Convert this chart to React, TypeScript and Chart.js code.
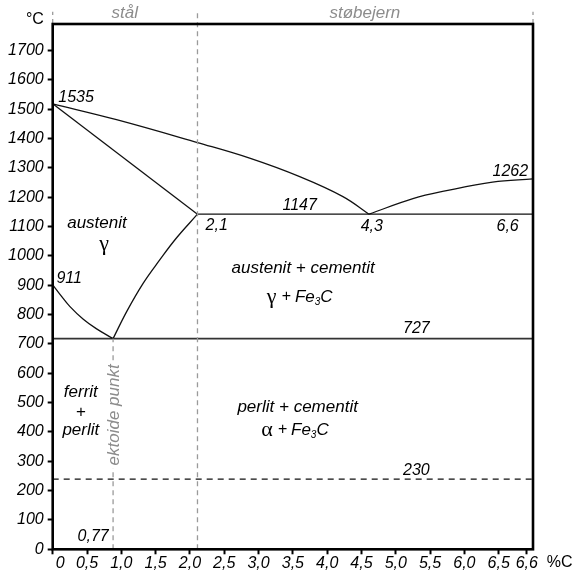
import React, { useEffect, useRef } from 'react';
import { Chart, registerables } from 'chart.js';

Chart.register(...registerables);

// ---- axis ticks (x positions follow the schematic drawing) ----
const xTickValues = [0, 0.5, 1, 1.5, 2, 2.5, 3, 3.5, 4, 4.5, 5, 5.5, 6, 6.5, 6.91];
const xTickLabels = ['0', '0,5', '1,0', '1,5', '2,0', '2,5', '3,0', '3,5', '4,0', '4,5', '5,0', '5,5', '6,0', '6,5', '6,6'];
const yTickValues = [0, 100, 200, 300, 400, 500, 600, 700, 800, 900, 1000, 1100, 1200, 1300, 1400, 1500, 1600, 1700];

// ---- phase boundary lines ----
const liquidusLeftX = [0, 0.93, 2.11, 2.87, 3.6, 4.23, 4.61];
const liquidusLeftY = [1518, 1464, 1386, 1333, 1270, 1202, 1142];
const liquidusRightX = [4.61, 5.25, 5.74, 6.41, 7.0];
const liquidusRightY = [1142, 1195, 1222, 1251, 1262];
const solidusX = [0, 2.11];
const solidusY = [1518, 1142];
const a3X = [0, 0.106, 0.252, 0.446, 0.64, 0.88];
const a3Y = [901, 869, 827, 784, 751, 718];
const acmX = [0.88, 1.078, 1.32, 1.56, 1.8, 2.11];
const acmY = [718, 810, 907, 986, 1060, 1142];
const eutecticX = [2.11, 7.0];
const eutecticY = [1142, 1142];
const eutectoidX = [0, 7.0];
const eutectoidY = [718, 718];
const line230X = [0, 7.0];
const line230Y = [239, 239];
const steelIronX = [2.11, 2.11];
const steelIronY = [0, 1832];
const eutectoidPointX = [0.88, 0.88];
const eutectoidPointY = [0, 718];
const leftMarkX = [0, 0];
const rightMarkX = [7.0, 7.0];
const edgeMarkY = [1790, 1832];

// ---- text annotations (data coordinates) ----
type Lbl = { text: string; x: number; y: number; kind: 'num' | 'region' | 'gray' | 'unit'; rotate?: boolean; align?: CanvasTextAlign };
const labels: Lbl[] = [
  { text: '1535', x: 0.34, y: 1539, kind: 'num' },
  { text: '1262', x: 6.67, y: 1287, kind: 'num' },
  { text: '1147', x: 3.6, y: 1170, kind: 'num' },
  { text: '2,1', x: 2.39, y: 1102, kind: 'num' },
  { text: '4,3', x: 4.65, y: 1099, kind: 'num' },
  { text: '6,6', x: 6.63, y: 1099, kind: 'num' },
  { text: '911', x: 0.24, y: 922, kind: 'num' },
  { text: '727', x: 5.3, y: 751, kind: 'num' },
  { text: '230', x: 5.3, y: 270, kind: 'num' },
  { text: '0,77', x: 0.59, y: 45, kind: 'num' },
  { text: 'austenit', x: 0.645, y: 1112, kind: 'region' },
  { text: 'austenit + cementit', x: 3.65, y: 959, kind: 'region' },
  { text: 'perlit + cementit', x: 3.57, y: 485, kind: 'region' },
  { text: 'ferrit', x: 0.41, y: 536, kind: 'region' },
  { text: '+', x: 0.41, y: 468, kind: 'region' },
  { text: 'perlit', x: 0.41, y: 407, kind: 'region' },
  { text: 'stål', x: 1.05, y: 1825, kind: 'gray' },
  { text: 'støbejern', x: 4.55, y: 1825, kind: 'gray' },
  { text: 'ektoide punkt', x: 0.88, y: 458, kind: 'gray', rotate: true },
  { text: '°C', x: -0.26, y: 1805, kind: 'unit' },
  { text: '%C', x: 7.2, y: -47, kind: 'unit', align: 'left' },
];
const greekLabels = [
  { greek: 'γ', x: 0.75, y: 1041, formula: false },
  { greek: 'γ', x: 3.6, y: 860, formula: true },
  { greek: 'α', x: 3.53, y: 407, formula: true },
];

const FAMILY = '"Liberation Sans", Arial, Helvetica, sans-serif';
const GREEK_FONT = '22px "Liberation Serif", "DejaVu Serif", serif';
const TICK_FONT = `italic 16px ${FAMILY}`;

const pts = (xs: number[], ys: number[]) => xs.map((x, i) => ({ x, y: ys[i] }));

const overlay = {
  id: 'overlay',
  afterDatasetsDraw(chart: any) {
    const { ctx, chartArea: a } = chart;
    const xs = chart.scales.x;
    const ys = chart.scales.y;
    ctx.save();
    // frame
    ctx.lineWidth = 2.6;
    ctx.strokeStyle = '#000';
    ctx.strokeRect(a.left, a.top, a.right - a.left, a.bottom - a.top);

    // tick labels (italic), placed from the scales
    ctx.font = TICK_FONT;
    ctx.fillStyle = '#000';
    ctx.textBaseline = 'middle';
    ctx.textAlign = 'right';
    yTickValues.forEach((v) => {
      ctx.fillText(String(v), a.left - 9, ys.getPixelForValue(v));
    });
    ctx.textAlign = 'center';
    xTickValues.forEach((v, i) => {
      let px = xs.getPixelForValue(v);
      const w = ctx.measureText(xTickLabels[i]).width;
      if (px - w / 2 < a.left) px = a.left + 3 + w / 2;
      ctx.fillText(xTickLabels[i], px, a.bottom + 14);
    });

    for (const l of labels) {
      const px = xs.getPixelForValue(l.x);
      const py = ys.getPixelForValue(l.y);
      let font = `italic 16px ${FAMILY}`;
      let color = '#000';
      if (l.kind === 'region') font = `italic 17px ${FAMILY}`;
      if (l.kind === 'gray') { font = `italic 17px ${FAMILY}`; color = '#8c8c8c'; }
      if (l.kind === 'unit') font = `16px ${FAMILY}`;
      ctx.font = font;
      ctx.fillStyle = color;
      ctx.textAlign = l.align || 'center';
      if (l.rotate) {
        ctx.save();
        ctx.translate(px, py);
        ctx.rotate(-Math.PI / 2);
        const w = ctx.measureText(l.text).width;
        ctx.fillStyle = '#fff';
        ctx.fillRect(-w / 2 - 3, -4, w + 6, 8);
        ctx.fillStyle = color;
        ctx.fillText(l.text, 0, 1);
        ctx.restore();
      } else {
        ctx.fillText(l.text, px, py);
      }
    }

    // greek letters and formulas
    for (const g of greekLabels) {
      const px = xs.getPixelForValue(g.x);
      const py = ys.getPixelForValue(g.y);
      if (!g.formula) {
        ctx.font = GREEK_FONT;
        ctx.textAlign = 'center';
        ctx.fillStyle = '#000';
        ctx.fillText(g.greek, px, py);
        continue;
      }
      const parts = [
        { t: g.greek, f: GREEK_FONT, dy: 0, gap: 5 },
        { t: '+', f: `italic 16px ${FAMILY}`, dy: 0, gap: 4 },
        { t: 'Fe', f: `italic 17px ${FAMILY}`, dy: 0, gap: 0 },
        { t: '3', f: `italic 10px ${FAMILY}`, dy: 5, gap: 0 },
        { t: 'C', f: `italic 17px ${FAMILY}`, dy: 0, gap: 0 },
      ];
      let total = 0;
      const widths = parts.map((p) => {
        ctx.font = p.f;
        const w = ctx.measureText(p.t).width;
        total += w + p.gap;
        return w;
      });
      let cx = px - total / 2;
      ctx.textAlign = 'left';
      ctx.fillStyle = '#000';
      parts.forEach((p, i) => {
        ctx.font = p.f;
        ctx.fillText(p.t, cx, py + p.dy);
        cx += widths[i] + p.gap;
      });
    }
    ctx.restore();
  },
};

export default function App() {
  const ref = useRef<HTMLCanvasElement | null>(null);
  useEffect(() => {
    if (!ref.current) return;
    const black = { borderColor: '#111', borderWidth: 1.3, pointRadius: 0, showLine: true, fill: false, tension: 0 };
    const smooth = { ...black, tension: 0.4 };
    const gray = { borderColor: '#9a9a9a', borderWidth: 1.3, borderDash: [5, 4], pointRadius: 0, showLine: true, fill: false, tension: 0, clip: false as any };
    const chart = new Chart(ref.current, {
      type: 'scatter',
      data: {
        datasets: [
          { ...gray, data: pts(steelIronX, steelIronY) },
          { ...gray, data: pts(eutectoidPointX, eutectoidPointY) },
          { ...gray, data: pts(leftMarkX, edgeMarkY) },
          { ...gray, data: pts(rightMarkX, edgeMarkY) },
          { ...smooth, data: pts(liquidusLeftX, liquidusLeftY) },
          { ...smooth, data: pts(liquidusRightX, liquidusRightY) },
          { ...black, data: pts(solidusX, solidusY) },
          { ...smooth, data: pts(a3X, a3Y) },
          { ...smooth, data: pts(acmX, acmY) },
          { ...black, data: pts(eutecticX, eutecticY) },
          { ...black, borderColor: '#333', borderWidth: 1.6, data: pts(eutectoidX, eutectoidY) },
          { ...black, borderDash: [6, 5], data: pts(line230X, line230Y) },
        ] as any,
      },
      options: {
        animation: false,
        responsive: false,
        events: [],
        layout: { padding: { top: 24, right: 42, left: 0, bottom: 0 } },
        plugins: { legend: { display: false }, tooltip: { enabled: false } },
        scales: {
          x: {
            type: 'linear',
            min: 0,
            max: 7.0,
            afterBuildTicks: (s: any) => { s.ticks = xTickValues.map((v) => ({ value: v })); },
            afterFit: (s: any) => { s.height = 21.7; },
            ticks: { display: false, autoSkip: false, maxRotation: 0 },
            grid: { drawOnChartArea: false, drawTicks: true, tickLength: 5, tickWidth: 2, tickColor: '#000' },
            border: { display: false },
          },
          y: {
            type: 'linear',
            min: 0,
            max: 1790,
            afterBuildTicks: (s: any) => { s.ticks = yTickValues.map((v) => ({ value: v })); },
            afterFit: (s: any) => { s.width = 52.7; },
            ticks: { display: false, autoSkip: false },
            grid: { drawOnChartArea: false, drawTicks: true, tickLength: 5, tickWidth: 2, tickColor: '#000' },
            border: { display: false },
          },
        },
      },
      plugins: [overlay],
    });
    return () => chart.destroy();
  }, []);
  return (
    <div style={{ position: 'fixed', left: 0, top: 0, width: 575, height: 571, background: '#fff' }}>
      <canvas ref={ref} width={575} height={571} style={{ display: 'block' }} />
    </div>
  );
}
